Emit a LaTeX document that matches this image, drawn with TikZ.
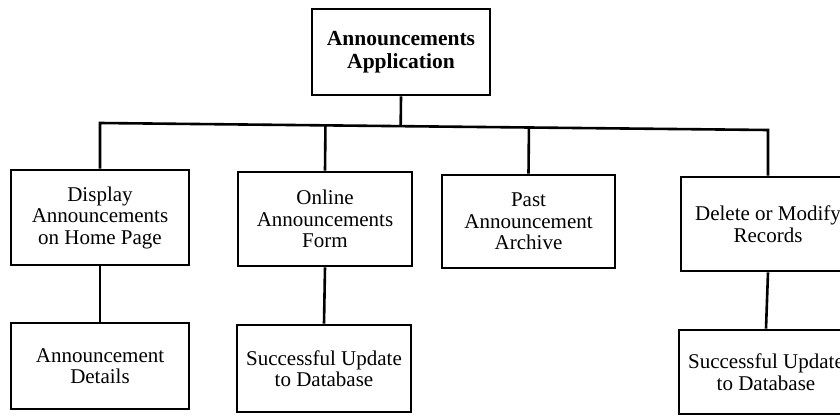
\documentclass[tikz,border=0pt]{standalone}
\usepackage{fontspec}
\setmainfont{Liberation Serif}
\usetikzlibrary{calc}
\begin{document}
\begin{tikzpicture}[x=1pt,y=-1pt,
  box/.style={draw, line width=2.6pt, align=center, inner sep=0pt, font=\fontsize{21}{21.5}\selectfont},
  link/.style={line width=2.6pt, line join=miter}]
\useasboundingbox (0,0) rectangle (840,415);
\clip (0,0) rectangle (840,415);
\node[box, minimum width=178pt, minimum height=86pt, font=\bfseries\fontsize{21.5}{22.5}\selectfont] (app) at (401,52) {Announcements\\Application};
\node[box, minimum width=178pt, minimum height=95pt] (disp) at (100,217.5) {Display\\Announcements\\on Home Page};
\node[box, minimum width=174pt, minimum height=94pt] (form) at (325,219) {Online\\Announcements\\Form};
\node[box, minimum width=173pt, minimum height=93pt] (arch) at (528.5,221.5) {Past\\Announcement\\Archive};
\node[box, minimum width=174pt, minimum height=94pt] (del) at (768,224) {Delete or Modify\\Records};
\node[box, minimum width=178pt, minimum height=86pt] (det) at (100,366) {Announcement\\Details};
\node[box, minimum width=174pt, minimum height=87pt] (upd1) at (324,368.5) {Successful Update\\to Database};
\node[box, minimum width=174pt, minimum height=84pt] (upd2) at (766,372) {Successful Update\\to Database};
\coordinate (busL) at (100,123);
\coordinate (busR) at (768,130);
\draw[link] (disp.north) -- (busL) -- (busR) -- (del.north);
\draw[link] (app.south) -- ($(busL)!(app.south)!(busR)$);
\draw[link] (form.north) -- ($(busL)!(form.north)!(busR)$);
\draw[link] (arch.north) -- ($(busL)!(arch.north)!(busR)$);
\draw[link] (disp.south) -- (det.north);
\draw[link] (form.south) -- (upd1.north);
\draw[link] (del.south) -- (upd2.north);
\end{tikzpicture}
\end{document}
